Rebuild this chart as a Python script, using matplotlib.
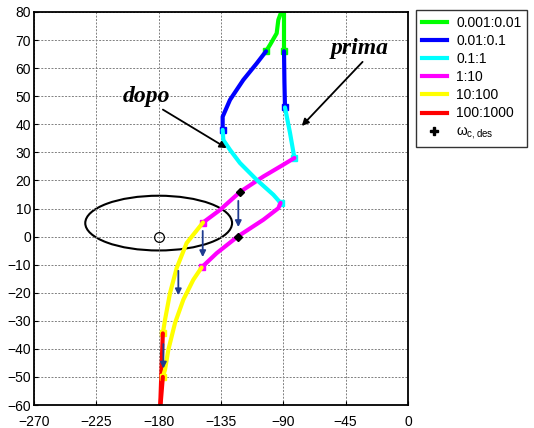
import matplotlib
matplotlib.use("Agg")
import matplotlib.pyplot as plt
from matplotlib.patches import Ellipse
from matplotlib.lines import Line2D

plt.rcParams['font.family'] = ['Liberation Sans', 'DejaVu Sans']
plt.rcParams['mathtext.fontset'] = 'custom'
plt.rcParams['mathtext.rm'] = 'Liberation Sans'
plt.rcParams['mathtext.it'] = 'Liberation Sans'

seg_labels = ['0.001:0.01', '0.01:0.1', '0.1:1', '1:10', '10:100', '100:1000']
seg_colors = ['#00ff00', '#0000ff', '#00ffff', '#ff00ff', '#ffff00', '#ff0000']

# "prima" curve (before), one list per frequency decade
prima_x = [
    [-89.5, -89.5],
    [-89.5, -89.2, -88.8],
    [-88.8, -85.2, -82.0],
    [-82.0, -90.0, -104.4, -121.0, -135.7, -148.0],
    [-148.0, -159.8, -167.0, -171.8, -175.4, -177.0],
    [-177.0, -178.0, -179.0],
]
prima_y = [
    [82, 66],
    [66, 55, 46],
    [46, 37, 28],
    [28, 25.6, 21.4, 16.0, 9.5, 5.0],
    [5.0, -2.3, -11.2, -20.1, -29.6, -34.5],
    [-34.5, -48, -62],
]

# "dopo" curve (after)
dopo_x = [
    [-90.0, -93.6, -94.8, -99.6, -102.5],
    [-102.5, -109.2, -118.9, -128.5, -133.8, -133.8],
    [-133.8, -133.3, -128.5, -121.3, -109.2, -97.2, -92.0],
    [-92.0, -93.6, -104.4, -123.0, -138.1, -149.0],
    [-149.0, -155.0, -162.2, -168.2, -173.0, -175.4, -177.0],
    [-177.0, -178.0, -179.0],
]
dopo_y = [
    [82, 77.2, 72.4, 68.3, 66.0],
    [66.0, 61.7, 55.8, 48.7, 42.7, 38.0],
    [38.0, 34.4, 30.9, 26.2, 20.2, 14.9, 12.0],
    [12.0, 10.1, 6.0, 0.0, -5.9, -11.0],
    [-11.0, -15.4, -22.5, -30.8, -40.3, -47.4, -50.0],
    [-50.0, -56, -62],
]

omega_x = [-121.0, -123.0]
omega_y = [16.0, 0.0]

arrow_x = [-122.5, -148.2, -165.8, -176.6]
arrow_y0 = [13.7, 3.0, -11.2, -37.3]
arrow_y1 = [2.4, -8.3, -21.9, -48.0]

fig = plt.figure(figsize=(5.34, 4.28), dpi=100)
ax = fig.add_axes([0.0637, 0.0537, 0.7003, 0.9183])

for xs_all, ys_all in [(prima_x, prima_y), (dopo_x, dopo_y)]:
    for i in range(6):
        ax.plot(xs_all[i], ys_all[i], color=seg_colors[i], lw=3, solid_capstyle='round')
        if i < 5:
            ax.plot(xs_all[i][-1], ys_all[i][-1], 's', color=seg_colors[i], ms=5, mec=seg_colors[i])

ax.plot(omega_x, omega_y, 'D', color='black', ms=4.5, ls='none')

for x, y0, y1 in zip(arrow_x, arrow_y0, arrow_y1):
    ax.annotate('', xy=(x, y1), xytext=(x, y0),
                arrowprops=dict(arrowstyle='-|>', color='#1f3b8f', lw=1.3, mutation_scale=9))

ax.add_patch(Ellipse((-180, 4.8), 106, 19.5, fill=False, ec='black', lw=1.5))
ax.plot(-180, 0, 'o', mfc='none', mec='black', ms=7, mew=0.9)

ax.annotate('dopo', xy=(-130.9, 31.5), xytext=(-206, 48),
            fontsize=17, fontweight='bold', fontstyle='italic', family='Liberation Serif',
            arrowprops=dict(arrowstyle='-|>', color='black', lw=1.3, mutation_scale=10,
                            shrinkA=0, shrinkB=0, relpos=(0.75, 0)))
ax.annotate('prima', xy=(-76.7, 39.4), xytext=(-56, 65),
            fontsize=17, fontweight='bold', fontstyle='italic', family='Liberation Serif',
            arrowprops=dict(arrowstyle='-|>', color='black', lw=1.3, mutation_scale=10,
                            shrinkA=0, shrinkB=0, relpos=(0.6, 0)))

ax.set_xlim(-270, 0)
ax.set_ylim(-60, 80)
ax.set_xticks(range(-270, 1, 45))
ax.set_yticks(range(-60, 81, 10))
ax.tick_params(direction='in', labelsize=10, length=3)
ax.tick_params(axis='y', pad=2)
ax.tick_params(axis='x', pad=7)
ax.grid(True, color='#808080', ls=(0, (2, 1.5)), lw=0.7)
for s in ax.spines.values():
    s.set_linewidth(1.3)

handles = [Line2D([], [], color=c, lw=3) for c in seg_colors]
handles.append(Line2D([], [], color='black', marker='P', ls='none', ms=6))
labels = seg_labels + [r'$\omega_{\mathrm{c,des}}$']
fig.legend(handles, labels, loc='upper left', bbox_to_anchor=(416 / 534, 1 - 10 / 428),
           fontsize=10, frameon=True, fancybox=False, edgecolor='black',
           handlelength=1.8, handletextpad=0.7, borderaxespad=0, labelspacing=0.3,
           borderpad=0.4)
fig.legends[0].get_frame().set_linewidth(1)

fig.savefig('out.png', dpi=100)
